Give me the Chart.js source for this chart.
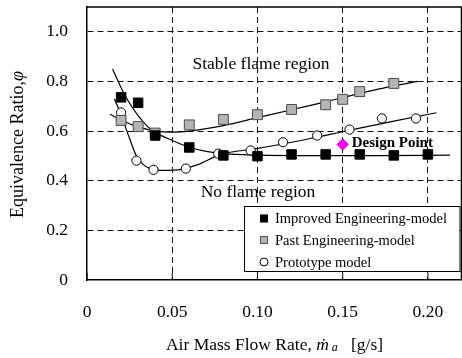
<!DOCTYPE html>
<html>
<head>
<meta charset="utf-8">
<script src="https://cdn.jsdelivr.net/npm/chart.js@4/dist/chart.umd.min.js"></script>
<style>
  html, body { margin: 0; padding: 0; background: #fff; }
  #wrap { width: 462px; height: 358px; }
</style>
</head>
<body>
<div id="wrap"><canvas id="chart"></canvas></div>
<script>
// measured points
const improvedX = [0.020, 0.030, 0.040, 0.060, 0.080, 0.100, 0.120, 0.140, 0.160, 0.180, 0.200];
const improvedY = [0.736, 0.714, 0.582, 0.534, 0.502, 0.499, 0.506, 0.506, 0.506, 0.502, 0.506];
const pastX = [0.020, 0.030, 0.040, 0.060, 0.080, 0.100, 0.120, 0.140, 0.150, 0.160, 0.180];
const pastY = [0.643, 0.618, 0.592, 0.625, 0.647, 0.666, 0.687, 0.706, 0.728, 0.759, 0.792];
const protoX = [0.020, 0.029, 0.039, 0.058, 0.077, 0.096, 0.115, 0.135, 0.154, 0.173, 0.193];
const protoY = [0.675, 0.481, 0.444, 0.449, 0.509, 0.522, 0.555, 0.582, 0.606, 0.651, 0.651];
const designX = [0.150];
const designY = [0.546];

// fitted curves
const improvedFitX = [0.015, 0.020, 0.025, 0.030, 0.035, 0.040, 0.050, 0.060, 0.070, 0.080, 0.100, 0.130, 0.170, 0.213];
const improvedFitY = [0.850, 0.775, 0.712, 0.662, 0.622, 0.595, 0.562, 0.535, 0.518, 0.509, 0.503, 0.501, 0.501, 0.503];
const pastFitX = [0.0135, 0.020, 0.030, 0.040, 0.050, 0.060, 0.080, 0.100, 0.120, 0.140, 0.160, 0.180, 0.194];
const pastFitY = [0.668, 0.645, 0.617, 0.601, 0.596, 0.600, 0.622, 0.654, 0.686, 0.718, 0.752, 0.782, 0.800];
const protoFitX = [0.016, 0.020, 0.025, 0.029, 0.033, 0.038, 0.045, 0.055, 0.065, 0.078, 0.100, 0.120, 0.140, 0.160, 0.180, 0.205];
const protoFitY = [0.730, 0.665, 0.570, 0.500, 0.465, 0.447, 0.442, 0.446, 0.465, 0.505, 0.530, 0.555, 0.583, 0.612, 0.640, 0.674];

const seriesNames = ['Improved Engineering-model', 'Past Engineering-model', 'Prototype model'];
const xTicks = [0, 0.05, 0.10, 0.15, 0.20];
const xTickLabels = ['0', '0.05', '0.10', '0.15', '0.20'];
const yTicks = [0, 0.2, 0.4, 0.6, 0.8, 1.0];
const yTickLabels = ['0', '0.2', '0.4', '0.6', '0.8', '1.0'];

const stableText = 'Stable flame region';
const noFlameText = 'No flame region';
const designText = 'Design Point';

const SERIF = "'Liberation Serif', 'Times New Roman', 'DejaVu Serif', serif";

const pts = (xs, ys) => xs.map((x, i) => ({ x: x, y: ys[i] }));

function fitLine(xs, ys) {
    return {
        data: pts(xs, ys),
        showLine: true,
        borderColor: '#000',
        borderWidth: 1.2,
        pointRadius: 0,
        cubicInterpolationMode: 'monotone',
        order: 3
    };
}

// titles, region labels, frame and the legend box
const extras = {
    id: 'extras',
    beforeDatasetsDraw(chart) {
        const { ctx, chartArea: a, scales: { x } } = chart;
        ctx.save();
        ctx.strokeStyle = '#000';
        ctx.lineWidth = 1.5;
        ctx.beginPath();
        ctx.moveTo(a.left, a.top);
        ctx.lineTo(a.right - 0.5, a.top);
        ctx.lineTo(a.right - 0.5, a.bottom);
        ctx.stroke();
        ctx.lineWidth = 1;
        ctx.beginPath();
        xTicks.forEach(v => {
            const px = x.getPixelForValue(v);
            ctx.moveTo(px, a.bottom);
            ctx.lineTo(px, a.bottom - 7);
        });
        ctx.stroke();
        ctx.restore();
    },
    afterDatasetsDraw(chart) {
        const { ctx, chartArea: a, scales: { x, y } } = chart;
        ctx.save();
        ctx.fillStyle = '#000';

        ctx.font = '17.5px ' + SERIF;
        ctx.textAlign = 'center';
        ctx.textBaseline = 'alphabetic';
        ctx.fillText(stableText, 261, 68.5);
        ctx.fillText(noFlameText, 258, 196.7);

        ctx.font = 'bold 15px ' + SERIF;
        ctx.textAlign = 'left';
        ctx.fillText(designText, x.getPixelForValue(designX[0]) + 9, 147);

        // legend
        const lx = 244, ly = 206, lw = 215.5, lh = 65;
        ctx.fillStyle = '#fff';
        ctx.fillRect(lx, ly, lw, lh);
        ctx.strokeStyle = '#000';
        ctx.lineWidth = 1;
        ctx.strokeRect(lx + 0.5, ly + 0.5, lw, lh);
        const rows = [218.5, 240, 262];
        const mx = 264;
        ctx.font = '14.5px ' + SERIF;
        ctx.textBaseline = 'middle';
        rows.forEach((ry, i) => {
            if (i === 0) {
                ctx.fillStyle = '#000';
                ctx.fillRect(mx - 4, ry - 4, 8, 8);
            } else if (i === 1) {
                ctx.fillStyle = '#b4b4b4';
                ctx.fillRect(mx - 4, ry - 4, 8, 8);
                ctx.strokeStyle = '#444';
                ctx.strokeRect(mx - 3.5, ry - 3.5, 7, 7);
            } else {
                ctx.fillStyle = '#fff';
                ctx.strokeStyle = '#000';
                ctx.beginPath();
                ctx.arc(mx, ry, 4, 0, Math.PI * 2);
                ctx.fill();
                ctx.stroke();
            }
            ctx.fillStyle = '#000';
            ctx.fillText(seriesNames[i], 275, ry + 1);
        });

        // y title
        ctx.save();
        ctx.translate(18, (a.top + a.bottom) / 2 + 1);
        ctx.rotate(-Math.PI / 2);
        const yMain = 'Equivalence Ratio,';
        ctx.font = '18px ' + SERIF;
        const w1 = ctx.measureText(yMain).width;
        ctx.font = 'italic 18px ' + SERIF;
        const w2 = ctx.measureText('φ').width;
        let sx = -(w1 + w2) / 2;
        ctx.textAlign = 'left';
        ctx.textBaseline = 'middle';
        ctx.font = '18px ' + SERIF;
        ctx.fillText(yMain, sx, 0);
        ctx.font = 'italic 18px ' + SERIF;
        ctx.fillText('φ', sx + w1, 0);
        ctx.restore();

        // x title
        const parts = [
            { t: 'Air Mass Flow Rate, ', f: '17.5px ' + SERIF, dy: 0 },
            { t: 'ṁ', f: 'italic 17.5px ' + SERIF, dy: 0 },
            { t: ' a', f: 'italic 12px ' + SERIF, dy: 1 },
            { t: '   [g/s]', f: '17.5px ' + SERIF, dy: 0 }
        ];
        let total = 0;
        parts.forEach(p => { ctx.font = p.f; p.w = ctx.measureText(p.t).width; total += p.w; });
        let px = (a.left + a.right) / 2 - total / 2;
        ctx.textAlign = 'left';
        ctx.textBaseline = 'alphabetic';
        parts.forEach(p => {
            ctx.font = p.f;
            ctx.fillText(p.t, px, 350 + p.dy);
            px += p.w;
        });
        ctx.restore();
    }
};

const ctx = document.getElementById('chart').getContext('2d');
new Chart(ctx, {
    type: 'scatter',
    data: {
        datasets: [
            {
                label: seriesNames[0],
                data: pts(improvedX, improvedY),
                pointStyle: 'rect',
                pointRadius: 6.7,
                backgroundColor: '#000',
                borderColor: '#000',
                borderWidth: 1,
                order: 1
            },
            {
                label: seriesNames[1],
                data: pts(pastX, pastY),
                pointStyle: 'rect',
                pointRadius: 7,
                backgroundColor: '#b4b4b4',
                borderColor: '#4a4a4a',
                borderWidth: 1,
                order: 1
            },
            {
                label: seriesNames[2],
                data: pts(protoX, protoY),
                pointStyle: 'circle',
                pointRadius: 4.6,
                backgroundColor: '#fff',
                borderColor: '#000',
                borderWidth: 1,
                order: 2
            },
            {
                label: 'Design Point',
                data: pts(designX, designY),
                pointStyle: 'rectRot',
                pointRadius: 5.6,
                backgroundColor: '#ff00ff',
                borderColor: '#c000c0',
                borderWidth: 1,
                order: 0
            },
            fitLine(improvedFitX, improvedFitY),
            fitLine(pastFitX, pastFitY),
            fitLine(protoFitX, protoFitY)
        ]
    },
    options: {
        responsive: true,
        maintainAspectRatio: false,
        animation: false,
        layout: { autoPadding: false, padding: { top: 7, right: 0, left: 0, bottom: 0 } },
        plugins: {
            legend: { display: false },
            tooltip: { enabled: false }
        },
        scales: {
            x: {
                type: 'linear',
                min: 0,
                max: 0.22,
                afterFit: s => { s.height = 78; s.paddingLeft = 0; s.paddingRight = 0; },
                afterBuildTicks: s => { s.ticks = xTicks.map(v => ({ value: v })); },
                ticks: {
                    color: '#000',
                    font: { family: SERIF, size: 17.5 },
                    padding: 22,
                    maxRotation: 0,
                    callback: (v, i) => xTickLabels[i]
                },
                grid: {
                    color: c => c.tick && c.tick.value === 0 ? 'rgba(0,0,0,0)' : '#111',
                    lineWidth: 1,
                    drawTicks: false
                },
                border: { display: true, color: '#000', width: 1.5, dash: [6, 4] }
            },
            y: {
                type: 'linear',
                min: 0,
                max: 1.1,
                afterFit: s => { s.width = 87; s.paddingTop = 0; s.paddingBottom = 0; },
                afterBuildTicks: s => { s.ticks = yTicks.map(v => ({ value: v })); },
                ticks: {
                    color: '#000',
                    font: { family: SERIF, size: 17.5 },
                    padding: 19,
                    callback: (v, i) => yTickLabels[i]
                },
                grid: {
                    color: c => c.tick && c.tick.value === 0 ? 'rgba(0,0,0,0)' : '#111',
                    lineWidth: 1,
                    drawTicks: false
                },
                border: { display: true, color: '#000', width: 1.5, dash: [6, 4] }
            }
        }
    },
    plugins: [extras]
});
</script>
</body>
</html>
